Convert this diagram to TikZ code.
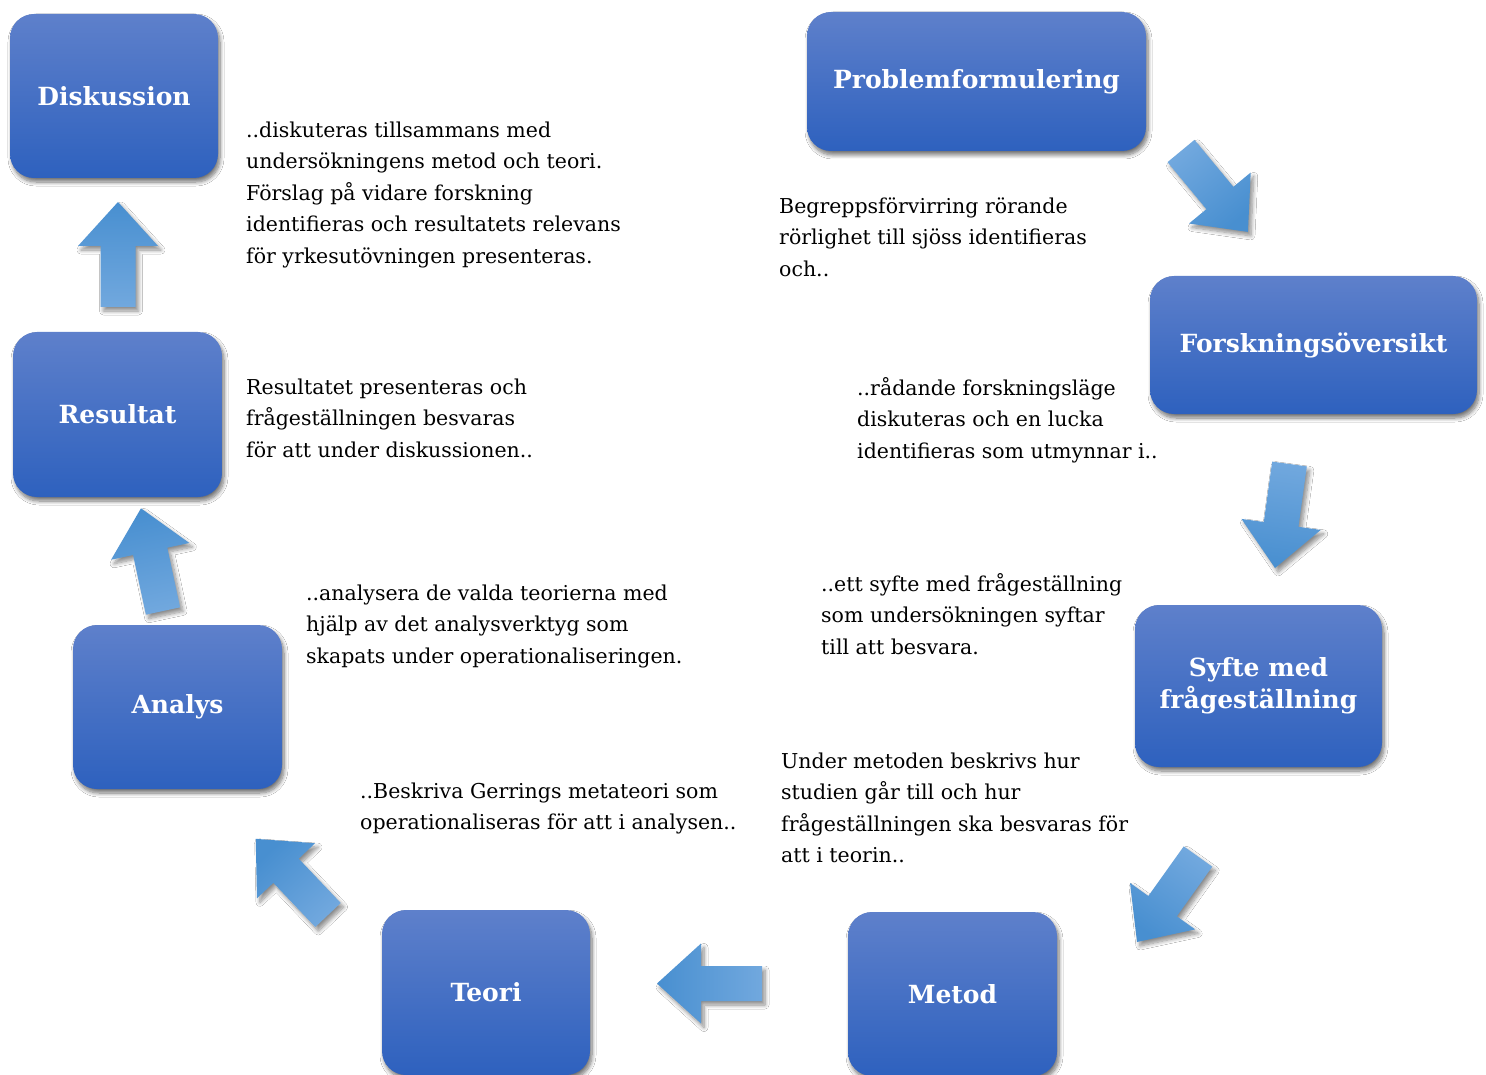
\documentclass[tikz,border=0pt]{standalone}
\usepackage{fontspec}
\setmainfont{DejaVu Serif}
\usetikzlibrary{shadows.blur}

\definecolor{boxtop}{RGB}{94,128,203}
\definecolor{boxbot}{RGB}{46,97,190}
\definecolor{arrtip}{RGB}{72,143,208}
\definecolor{arrtail}{RGB}{113,168,222}

\tikzset{
  stepbox/.style={rectangle, rounded corners=24pt, top color=boxtop, bottom color=boxbot,
    draw=none, text=white, font=\fontsize{25}{32}\selectfont\bfseries, align=center,
    inner sep=0pt,
    blur shadow={shadow xshift=2pt, shadow yshift=-4pt, shadow blur radius=4pt, shadow blur steps=8, shadow opacity=55}},
  desc/.style={anchor=north west, inner sep=0pt, align=left,
    font=\fontsize{20.5}{31.5}\selectfont, text=black},
  blockarrow/.style={bottom color=arrtail, top color=arrtip,
    blur shadow={shadow xshift=3pt, shadow yshift=-4pt, shadow blur radius=4pt, shadow blur steps=8, shadow opacity=45}},
}

% tail x, tail y, direction angle, shading angle (= direction - 90)
\newcommand{\bigarrow}[4]{%
  \shade[blockarrow, shading angle=#4, shift={(#1,#2)}, rotate=#3]
    (0,-17.5) -- (61,-17.5) -- (61,-40) -- (105,0) -- (61,40) -- (61,17.5) -- (0,17.5) -- cycle;}

\begin{document}
\begin{tikzpicture}[x=1pt, y=1pt]
\useasboundingbox (0,0) rectangle (1486,-1075);
\fill[white] (0,0) rectangle (1486,-1075);

% boxes
\node[stepbox, minimum width=208pt, minimum height=164pt] (disk) at (114,-96) {Diskussion};
\node[stepbox, minimum width=339pt, minimum height=139pt] (prob) at (976.5,-81.5) {Problemformulering};
\node[stepbox, minimum width=327pt, minimum height=138pt] (fors) at (1313.5,-345) {Forskningsöversikt};
\node[stepbox, minimum width=247pt, minimum height=162pt] (syfte) at (1258.5,-686) {Syfte med\\frågeställning};
\node[stepbox, minimum width=209pt, minimum height=164pt] (metod) at (952.5,-994) {Metod};
\node[stepbox, minimum width=208pt, minimum height=165pt] (teori) at (486,-992.5) {Teori};
\node[stepbox, minimum width=209pt, minimum height=164pt] (analys) at (177.5,-707) {Analys};
\node[stepbox, minimum width=209pt, minimum height=165pt] (res) at (117.5,-414.5) {Resultat};

% block arrows
\bigarrow{118}{-307}{90}{0}
\bigarrow{1181}{-151}{-50.4}{-140.4}
\bigarrow{1289.5}{-464}{-97.9}{-187.9}
\bigarrow{1198}{-856.5}{-125.5}{-215.5}
\bigarrow{762}{-983.5}{180}{90}
\bigarrow{328}{-915}{133.5}{43.5}
\bigarrow{163}{-611}{102.1}{12.1}

% descriptions
\node[desc] (t1) at (246,-115) {\strut..diskuteras tillsammans med\\undersökningens metod och teori.\\Förslag på vidare forskning\\identifieras och resultatets relevans\\för yrkesutövningen presenteras.};
\node[desc] (t2) at (779,-191) {\strut Begreppsförvirring rörande\\rörlighet till sjöss identifieras\\och..};
\node[desc] (t3) at (857,-373) {\strut..rådande forskningsläge\\diskuteras och en lucka\\identifieras som utmynnar i..};
\node[desc] (t4) at (821,-569) {\strut..ett syfte med frågeställning\\som undersökningen syftar\\till att besvara.};
\node[desc] (t5) at (781,-746) {\strut Under metoden beskrivs hur\\studien går till och hur\\frågeställningen ska besvaras för\\att i teorin..};
\node[desc] (t6) at (360,-776) {\strut..Beskriva Gerrings metateori som\\operationaliseras för att i analysen..};
\node[desc] (t7) at (306,-578) {\strut..analysera de valda teorierna med\\hjälp av det analysverktyg som\\skapats under operationaliseringen.};
\node[desc] (t8) at (246,-372) {\strut Resultatet presenteras och\\frågeställningen besvaras\\för att under diskussionen..};
\end{tikzpicture}
\end{document}
